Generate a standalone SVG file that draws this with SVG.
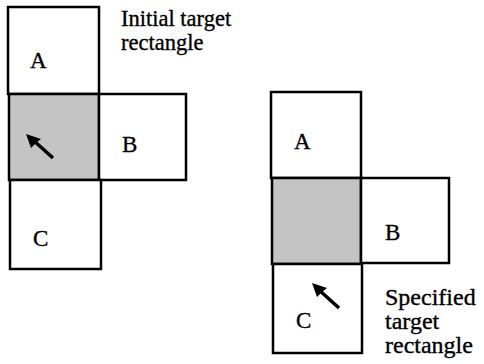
<svg xmlns="http://www.w3.org/2000/svg" width="484" height="364" viewBox="0 0 484 364">
<style>
.box{fill:#fff;stroke:#000;stroke-width:2.5}
.sh{fill:#c4c4c4;stroke:#000;stroke-width:2.5}
text{font-family:"Liberation Serif","DejaVu Serif",serif;font-size:22.5px;fill:#000;stroke:#000;stroke-width:0.35}
.lbl{font-size:23px}
.cap2{font-size:24px}
</style>
<g id="left">
<g id="left-A"><rect class="box" x="8" y="7" width="91" height="87"/><text class="lbl" x="30" y="68">A</text></g>
<g id="left-S"><rect class="sh" x="9" y="94" width="90" height="86"/></g>
<g id="left-B"><rect class="box" x="99" y="94" width="87" height="86"/><text class="lbl" x="122" y="152">B</text></g>
<g id="left-C"><rect class="box" x="10" y="180" width="91" height="89"/><text class="lbl" x="33" y="246">C</text></g>
<text x="121" y="26">Initial target</text>
<text x="121" y="50">rectangle</text>
</g>
<g id="right">
<g id="right-A"><rect class="box" x="271" y="92" width="90" height="86"/><text class="lbl" x="294" y="149">A</text></g>
<g id="right-S"><rect class="sh" x="272" y="178" width="89" height="86"/></g>
<g id="right-B"><rect class="box" x="361" y="178" width="88" height="85"/><text class="lbl" x="385" y="240">B</text></g>
<g id="right-C"><rect class="box" x="273" y="264" width="89" height="89"/><text class="lbl" x="296" y="328">C</text></g>
<text class="cap2" x="385" y="305">Specified</text>
<text class="cap2" x="385" y="329">target</text>
<text class="cap2" x="385" y="353">rectangle</text>
</g>
<g id="connectors">
<path d="M53,158 L33,140" stroke="#000" stroke-width="3.5" fill="none"/>
<path d="M26,134 L41,139 L36,143 L31,148 Z" fill="#000"/>
<path d="M339,308 L319,290" stroke="#000" stroke-width="3.5" fill="none"/>
<path d="M312,283 L327,288 L322,292 L317,297 Z" fill="#000"/>
</g>
</svg>
